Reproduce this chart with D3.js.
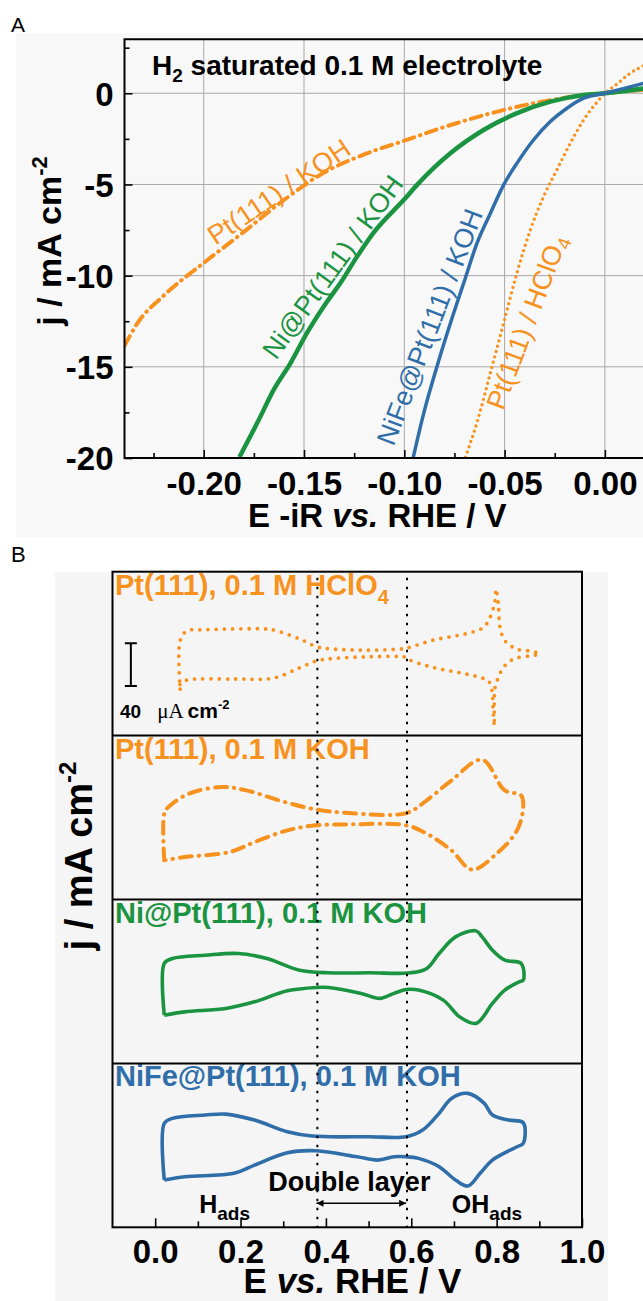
<!DOCTYPE html>
<html>
<head>
<meta charset="utf-8">
<script src="https://cdn.jsdelivr.net/npm/d3@7"></script>
<style>
  body { margin: 0; background: #fff; }
  text { font-family: "Liberation Sans", Arial, sans-serif; }
</style>
</head>
<body>
<script>
// ---- panel A : polarisation curves, E -iR (V) vs j (mA cm-2) ----
var lsvTicks = [-0.20, -0.15, -0.10, -0.05, 0.00];
var lsvMinor = [-0.225, -0.175, -0.125, -0.075, -0.025];
var jTicks = [0, -5, -10, -15, -20];
var jMinor = [2.5, -2.5, -7.5, -12.5, -17.5];

var ptKOH = [[-0.2395,-13.85],[-0.233,-12.6],[-0.22,-11.1],[-0.20,-9.3],[-0.18,-7.6],
  [-0.16,-5.85],[-0.14,-4.35],[-0.12,-3.35],[-0.10,-2.6],[-0.08,-1.85],[-0.06,-1.19],
  [-0.04,-0.65],[-0.02,-0.25],[0,0],[0.022,0.22]];
var niPtKOH = [[-0.1822,-19.95],[-0.1731,-18.03],[-0.1648,-16.2],[-0.1565,-14.75],
  [-0.1483,-13.1],[-0.140,-11.66],[-0.1317,-10.38],[-0.1234,-8.93],[-0.115,-7.6],
  [-0.1001,-5.83],[-0.0935,-5.01],[-0.0769,-3.28],[-0.0603,-2.0],[-0.0438,-1.09],
  [-0.0272,-0.46],[-0.0106,-0.09],[0,0],[0.022,0.3]];
var niFePtKOH = [[-0.0955,-19.95],[-0.0902,-17.5],[-0.0836,-14.94],[-0.0769,-12.57],
  [-0.0703,-10.38],[-0.0637,-8.2],[-0.0570,-6.56],[-0.0504,-5.01],[-0.0438,-3.83],
  [-0.0355,-2.55],[-0.0272,-1.55],[-0.0189,-0.82],[-0.0106,-0.27],[0,0],[0.022,0.62]];
var ptHClO4 = [[-0.0695,-19.95],[-0.0637,-18.03],[-0.057,-15.3],[-0.0504,-12.57],
  [-0.0438,-9.84],[-0.0371,-7.47],[-0.0305,-5.65],[-0.0239,-4.19],[-0.0172,-2.73],
  [-0.0106,-1.46],[-0.004,-0.5],[0,0],[0.006,0.5],[0.012,1.05],[0.022,1.65]];

// ---- panel B : cyclic voltammograms, E (V) vs j (uA cm-2, offset per panel) ----
var cvTicks = [0.0, 0.2, 0.4, 0.6, 0.8, 1.0];
var cvMinor = [0.1, 0.3, 0.5, 0.7, 0.9];
var dlBounds = [0.38, 0.59];

var cvPtHClO4 = [[0.0585,-33.2],[0.0585,12.1],[0.0742,21.4],[0.105,22.3],[0.2616,23.0],
  [0.285,21.4],[0.3396,13.6],[0.3787,6.4],[0.4176,4.3],[0.4958,3.3],[0.5738,4.3],
  [0.5895,5.2],[0.6518,12.7],[0.73,18.9],[0.7689,24.5],[0.7845,33.9],[0.7963,49.5],
  [0.7986,60.5],[0.804,46.4],[0.808,24.5],[0.8197,12.0],[0.8471,4.3],[0.886,2.0],
  [0.90,-0.4],[0.8782,-2.0],[0.8391,-5.1],[0.8157,-13.0],[0.804,-22.3],[0.7963,-31.7],
  [0.7946,-50.4],[0.7946,-67.6],[0.7916,-49.8],[0.7892,-34.8],[0.7806,-25.4],
  [0.7611,-22.3],[0.73,-19.2],[0.6518,-13.0],[0.5972,-6.0],[0.5895,-3.6],[0.5738,-2.7],
  [0.4958,-3.0],[0.4176,-4.5],[0.3787,-6.7],[0.3396,-13.0],[0.2771,-22.9],
  [0.1834,-23.8],[0.0742,-24.8],[0.0585,-28.5],[0.0585,-33.2]];
var cvPtKOH = [[0.0213,-40.1],[0.0213,3.7],[0.0309,9.8],[0.0792,22.4],[0.156,28.6],
  [0.2136,25.5],[0.2904,16.1],[0.3674,8.3],[0.4539,4.2],[0.5883,4.2],[0.6363,16.1],
  [0.6941,34.8],[0.766,54.2],[0.819,25.5],[0.8574,20.8],[0.8623,9.8],[0.8478,-12.0],
  [0.80,-33.8],[0.7422,-48.8],[0.6941,-30.7],[0.6363,-15.1],[0.5883,-7.3],[0.4539,-6.4],
  [0.377,-7.3],[0.3096,-12.0],[0.2328,-23.0],[0.1752,-32.3],[0.0696,-37.0],[0.0213,-40.1]];
var cvNiPt = [[0.0213,-31.6],[0.0213,16.9],[0.0405,21.5],[0.1176,24.6],[0.1944,26.2],
  [0.2616,21.5],[0.3384,10.6],[0.4059,8.1],[0.5019,8.1],[0.5979,8.1],[0.6365,12.2],
  [0.6653,26.2],[0.7037,41.8],[0.7518,47.4],[0.766,41.8],[0.7902,29.3],[0.819,20.0],
  [0.8574,16.9],[0.8623,1.2],[0.8527,-0.4],[0.819,-8.1],[0.7902,-20.6],[0.7518,-39.3],
  [0.7133,-33.2],[0.675,-17.5],[0.6171,-8.1],[0.5883,-7.5],[0.5595,-11.2],[0.526,-15.9],
  [0.4827,-11.2],[0.4059,-5.6],[0.377,-5.6],[0.3096,-8.8],[0.2328,-19.1],[0.1656,-25.3],
  [0.0696,-28.5],[0.0213,-31.6]];
var cvNiFePt = [[0.0213,-32.5],[0.0213,20.6],[0.0405,25.3],[0.1176,28.4],[0.1656,29.3],
  [0.2328,23.7],[0.3096,12.7],[0.3674,8.7],[0.5019,8.1],[0.5883,8.1],[0.6267,14.3],
  [0.6653,30.0],[0.6941,44.0],[0.7326,48.7],[0.771,39.3],[0.7902,28.4],[0.8286,23.7],
  [0.8623,21.2],[0.8623,1.9],[0.8478,-1.3],[0.7902,-13.8],[0.7614,-26.2],[0.7326,-38.1],
  [0.7037,-32.5],[0.6653,-20.0],[0.6171,-12.2],[0.5883,-10.7],[0.5595,-10.7],
  [0.5211,-13.8],[0.4731,-10.7],[0.377,-5.1],[0.3096,-6.9],[0.2328,-18.5],
  [0.1848,-26.2],[0.0696,-29.4],[0.0213,-32.5]];

var orange = "#f7921e", green = "#1b9441", blue = "#2f6ea8";
var FONT = '"Liberation Sans", Arial, sans-serif';

var W = 643, H = 1301;
var svg = d3.select("body").append("svg").attr("width", W).attr("height", H);

// light grey figure backgrounds
svg.append("rect").attr("x", 16).attr("y", 33).attr("width", W - 16).attr("height", 504)
    .attr("fill", "#f8f8f8");
svg.append("rect").attr("x", 55).attr("y", 572).attr("width", 553).attr("height", H - 572)
    .attr("fill", "#f5f5f5");

// ================= panel A =================
var aLeft = 124.5, aTop = 39.3, aBottom = 458;
var xA = d3.scaleLinear().domain([-0.2395, 0.022]).range([aLeft, 649]);
var yA = d3.scaleLinear().domain([-20, 2.96]).range([aBottom, aTop]);

svg.append("text").text("A").attr("x", 11).attr("y", 32)
    .attr("font-size", 21);

var gA = svg.append("g");

// grid
gA.selectAll("line.vgrid").data(lsvTicks).enter().append("line")
    .attr("x1", d => xA(d)).attr("x2", d => xA(d))
    .attr("y1", aTop).attr("y2", aBottom)
    .style("stroke", "#a8a8a8").style("stroke-width", 1);
gA.selectAll("line.hgrid").data(jTicks.filter(d => d > -20)).enter().append("line")
    .attr("x1", aLeft).attr("x2", W)
    .attr("y1", d => yA(d)).attr("y2", d => yA(d))
    .style("stroke", "#a8a8a8").style("stroke-width", 1);

function styleAxis(g, fs) {
    g.select(".domain").remove();
    g.selectAll("line").style("stroke", "#000").style("stroke-width", 1.6);
    g.selectAll("text").attr("font-size", fs).attr("font-weight", "bold")
        .attr("font-family", FONT).attr("fill", "#000");
}

var xAxisA = gA.append("g").attr("transform", "translate(0," + aBottom + ")")
    .call(d3.axisBottom(xA).tickValues(lsvTicks).tickSize(-8)
        .tickFormat(d => d.toFixed(2)));
styleAxis(xAxisA, 33);
xAxisA.selectAll("text").attr("y", 37).attr("dy", null);
gA.append("g").attr("transform", "translate(0," + aBottom + ")")
    .call(d3.axisBottom(xA).tickValues(lsvMinor).tickSize(-5).tickFormat(""))
    .call(g => styleAxis(g, 0));

var yAxisA = gA.append("g").attr("transform", "translate(" + aLeft + ",0)")
    .call(d3.axisLeft(yA).tickValues(jTicks).tickSize(-8).tickFormat(d => String(d)));
styleAxis(yAxisA, 33);
yAxisA.selectAll("text").attr("x", -11).attr("dy", "0.36em");
gA.append("g").attr("transform", "translate(" + aLeft + ",0)")
    .call(d3.axisLeft(yA).tickValues(jMinor).tickSize(-5).tickFormat(""))
    .call(g => styleAxis(g, 0));

// curves
svg.append("clipPath").attr("id", "clipA").append("rect")
    .attr("x", aLeft).attr("y", aTop).attr("width", W - aLeft).attr("height", aBottom - aTop);
var lineA = d3.line().x(d => xA(d[0])).y(d => yA(d[1])).curve(d3.curveMonotoneX);
var curvesA = gA.append("g").attr("clip-path", "url(#clipA)");
curvesA.append("path").attr("d", lineA(ptKOH)).attr("fill", "none")
    .style("stroke", orange).style("stroke-width", 4)
    .style("stroke-dasharray", "11,6,0.5,6").style("stroke-linecap", "round");
curvesA.append("path").attr("d", lineA(ptHClO4)).attr("fill", "none")
    .style("stroke", orange).style("stroke-width", 3.4)
    .style("stroke-dasharray", "0,5.5").style("stroke-linecap", "round");
curvesA.append("path").attr("d", lineA(niPtKOH)).attr("fill", "none")
    .style("stroke", green).style("stroke-width", 4.5);
curvesA.append("path").attr("d", lineA(niFePtKOH)).attr("fill", "none")
    .style("stroke", blue).style("stroke-width", 3.5);

// frame
gA.append("path")
    .attr("d", "M" + W + "," + aTop + "H" + aLeft + "V" + aBottom + "H" + W)
    .attr("fill", "none").style("stroke", "#000").style("stroke-width", 2);

// annotations
var h2 = gA.append("text").attr("x", 152).attr("y", 75)
    .attr("font-size", 28).attr("font-weight", "bold");
h2.append("tspan").text("H");
h2.append("tspan").attr("font-size", 19).attr("dy", 7).text("2");
h2.append("tspan").attr("dy", -7).text(" saturated 0.1 M electrolyte");

function rotLabel(txt, sub, cx, cy, ang, color) {
    var t = gA.append("text")
        .attr("transform", "translate(" + cx + "," + cy + ") rotate(" + ang + ")")
        .attr("text-anchor", "middle").attr("dominant-baseline", "central")
        .attr("font-size", 27).attr("fill", color);
    t.append("tspan").text(txt);
    if (sub) t.append("tspan").attr("font-size", 19).attr("dy", 7).text(sub);
}
rotLabel("Pt(111) / KOH", null, 279, 192, -34, orange);
rotLabel("Ni@Pt(111) / KOH", null, 333, 267, -54, green);
rotLabel("NiFe@Pt(111) / KOH", null, 430, 327, -69, blue);
rotLabel("Pt(111) / HClO", "4", 527, 322, -69.5, orange);

// axis titles
var yTitleA = gA.append("text")
    .attr("transform", "translate(61," + 241 + ") rotate(-90)")
    .attr("text-anchor", "middle").attr("font-size", 34).attr("font-weight", "bold");
yTitleA.append("tspan").text("j / mA cm");
yTitleA.append("tspan").attr("font-size", 22).attr("dy", -14).text("-2");

var xTitleA = gA.append("text").attr("x", 248).attr("y", 527)
    .attr("font-size", 33).attr("font-weight", "bold");
xTitleA.append("tspan").text("E -iR ");
xTitleA.append("tspan").attr("font-style", "italic").text("vs.");
xTitleA.append("tspan").text(" RHE / V");

// ================= panel B =================
var bLeft = 112.5, bRight = 582, bTop = 571.7, bBottom = 1227.3;
var panelH = (bBottom - bTop) / 4;
var cvHalf = 76.8;   // uA cm-2 from panel centre to panel edge
var xB = d3.scaleLinear().domain([-0.1, 1.0]).range([bLeft, bRight]);

svg.append("text").text("B").attr("x", 11).attr("y", 562).attr("font-size", 22);

var gB = svg.append("g");

var cvPanels = [
    { label: "Pt(111), 0.1 M HClO", sub: "4", color: orange, data: cvPtHClO4,
      width: 3.8, dash: "0,8.2", cap: "round" },
    { label: "Pt(111), 0.1 M KOH", sub: null, color: orange, data: cvPtKOH,
      width: 4, dash: "12,7,0.5,7", cap: "round" },
    { label: "Ni@Pt(111), 0.1 M KOH", sub: null, color: green, data: cvNiPt,
      width: 3.6, dash: null, cap: "butt" },
    { label: "NiFe@Pt(111), 0.1 M KOH", sub: null, color: blue, data: cvNiFePt,
      width: 3.6, dash: null, cap: "butt" }
];

cvPanels.forEach(function(p, i) {
    var top = bTop + i * panelH;
    var yP = d3.scaleLinear().domain([-cvHalf, cvHalf]).range([top + panelH, top]);
    p.y = yP;
    var line = d3.line().x(d => xB(d[0])).y(d => yP(d[1]))
        .curve(d3.curveCatmullRom.alpha(0.5));
    gB.append("path").attr("d", line(p.data)).attr("fill", "none")
        .style("stroke", p.color).style("stroke-width", p.width)
        .style("stroke-dasharray", p.dash).style("stroke-linecap", p.cap)
        .style("stroke-linejoin", "round");
    var t = gB.append("text").attr("x", 115).attr("y", top + 23)
        .attr("font-size", 29).attr("font-weight", "bold").attr("fill", p.color);
    t.append("tspan").text(p.label);
    if (p.sub) t.append("tspan").attr("font-size", 20).attr("dy", 9).text(p.sub);
    if (i > 0) {
        gB.append("line").attr("x1", bLeft).attr("x2", bRight)
            .attr("y1", top).attr("y2", top)
            .style("stroke", "#000").style("stroke-width", 2);
    }
});

// double-layer boundaries
gB.selectAll("line.dl").data(dlBounds).enter().append("line")
    .attr("x1", d => xB(d)).attr("x2", d => xB(d))
    .attr("y1", bTop + 6).attr("y2", bBottom)
    .style("stroke", "#000").style("stroke-width", 2)
    .style("stroke-dasharray", "2.5,6.5");

// scale bar (40 uA cm-2) in the first panel
var y1 = cvPanels[0].y, sbX = xB(-0.057), sbLow = -30.3;
gB.append("path")
    .attr("d", "M" + (sbX - 6) + "," + y1(sbLow) + "H" + (sbX + 6) +
        "M" + sbX + "," + y1(sbLow) + "V" + y1(sbLow + 40) +
        "M" + (sbX - 6) + "," + y1(sbLow + 40) + "H" + (sbX + 6))
    .attr("fill", "none").style("stroke", "#000").style("stroke-width", 2);
var sb = gB.append("text").attr("x", 120).attr("y", 718).attr("font-size", 19);
sb.append("tspan").attr("font-weight", "bold").text("40");
sb.append("tspan").attr("font-family", '"Liberation Serif", "Times New Roman", serif')
    .attr("font-size", 21).attr("dx", 16).text("\u03bcA");
sb.append("tspan").attr("font-weight", "bold").attr("font-size", 21).attr("dx", 4).text("cm");
sb.append("tspan").attr("font-weight", "bold").attr("font-size", 13).attr("dy", -9).text("-2");

// region annotations
gB.append("text").attr("x", xB(0.455)).attr("y", 1190.7).attr("text-anchor", "middle")
    .attr("font-size", 27).attr("font-weight", "bold").text("Double layer");

var defs = svg.append("defs");
defs.append("marker").attr("id", "arrowHead").attr("viewBox", "0 0 10 10")
    .attr("refX", 10).attr("refY", 5).attr("markerWidth", 9).attr("markerHeight", 7)
    .attr("markerUnits", "userSpaceOnUse").attr("orient", "auto-start-reverse")
    .append("path").attr("d", "M0,0L10,5L0,10z").attr("fill", "#000");
gB.append("line").attr("x1", xB(0.378)).attr("x2", xB(0.588))
    .attr("y1", 1203.3).attr("y2", 1203.3)
    .style("stroke", "#000").style("stroke-width", 1.4)
    .attr("marker-start", "url(#arrowHead)").attr("marker-end", "url(#arrowHead)");

function adsLabel(main, x) {
    var t = gB.append("text").attr("x", x).attr("y", 1212.7)
        .attr("font-size", 25).attr("font-weight", "bold");
    t.append("tspan").text(main);
    t.append("tspan").attr("font-size", 19).attr("dy", 7.5).text("ads");
}
adsLabel("H", xB(0.103));
adsLabel("OH", xB(0.695));

// frame of panel B
gB.append("rect").attr("x", bLeft).attr("y", bTop)
    .attr("width", bRight - bLeft).attr("height", bBottom - bTop)
    .attr("fill", "none").style("stroke", "#000").style("stroke-width", 2);

// x axis panel B
var xAxisB = gB.append("g").attr("transform", "translate(0," + bBottom + ")")
    .call(d3.axisBottom(xB).tickValues(cvTicks).tickSize(-9)
        .tickFormat(d => d.toFixed(1)));
styleAxis(xAxisB, 33);
xAxisB.selectAll("text").attr("y", 36).attr("dy", null);
gB.append("g").attr("transform", "translate(0," + bBottom + ")")
    .call(d3.axisBottom(xB).tickValues(cvMinor).tickSize(-6).tickFormat(""))
    .call(g => styleAxis(g, 0));

var xTitleB = gB.append("text").attr("x", 352.5).attr("y", 1293)
    .attr("text-anchor", "middle").attr("font-size", 35).attr("font-weight", "bold");
xTitleB.append("tspan").text("E ");
xTitleB.append("tspan").attr("font-style", "italic").text("vs.");
xTitleB.append("tspan").text(" RHE / V");

var yTitleB = gB.append("text")
    .attr("transform", "translate(92,856) rotate(-90)")
    .attr("text-anchor", "middle").attr("font-size", 38).attr("font-weight", "bold");
yTitleB.append("tspan").text("j / mA cm");
yTitleB.append("tspan").attr("font-size", 24).attr("dy", -16).text("-2");
</script>
</body>
</html>
